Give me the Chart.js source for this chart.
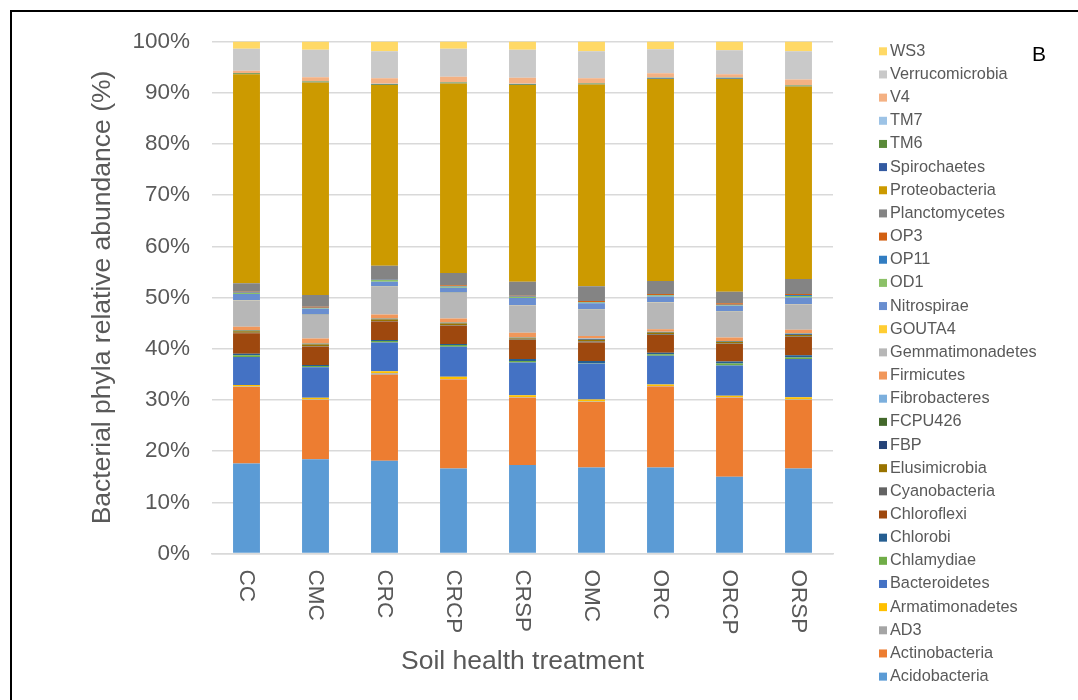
<!DOCTYPE html>
<html>
<head>
<meta charset="utf-8">
<script src="https://cdn.jsdelivr.net/npm/chart.js@4.4.1/dist/chart.umd.min.js"></script>
<style>
    html, body { margin: 0; padding: 0; background: #fff; overflow: hidden; }
    #contenedor { position: relative; width: 1078px; height: 700px; }
    #marco { position: absolute; left: 10px; top: 10px; width: 1100px; height: 720px;
             border-top: 2px solid #000; border-left: 2px solid #000; pointer-events: none; }
</style>
</head>
<body>
<div id="contenedor">
    <canvas id="graficoFilos"></canvas>
    <div id="marco"></div>
</div>
<script>
const categorias = ['CC', 'CMC', 'CRC', 'CRCP', 'CRSP', 'OMC', 'ORC', 'ORCP', 'ORSP'];

// relative abundance (%) per treatment
const acidobacteria    = [17.6, 18.4, 18.1, 16.6, 17.3, 16.8, 16.8, 15.0, 16.6];
const actinobacteria   = [14.9, 11.6, 16.8, 17.4, 13.1, 12.8, 15.8, 15.4, 13.4];
const ad3              = [0.1, 0.1, 0.3, 0.1, 0.1, 0.1, 0.1, 0.1, 0.1];
const armatimonadetes  = [0.3, 0.3, 0.4, 0.4, 0.4, 0.4, 0.3, 0.3, 0.4];
const bacteroidetes    = [5.5, 6.0, 5.6, 5.9, 6.4, 7.0, 5.6, 5.9, 7.5];
const chlamydiae       = [0.3, 0.2, 0.3, 0.3, 0.3, 0.1, 0.3, 0.4, 0.3];
const chlorobi         = [0.3, 0.2, 0.2, 0.2, 0.4, 0.4, 0.3, 0.4, 0.4];
const chloroflexi      = [4.0, 3.6, 3.6, 3.6, 3.7, 3.6, 3.5, 3.4, 3.6];
const cyanobacteria    = [0.1, 0.1, 0.1, 0.1, 0.1, 0.2, 0.1, 0.1, 0.1];
const elusimicrobia    = [0.3, 0.3, 0.3, 0.3, 0.2, 0.3, 0.3, 0.3, 0.3];
const fbp              = [0.05, 0.05, 0.05, 0.05, 0.05, 0.1, 0.05, 0.05, 0.1];
const fcpu426          = [0.1, 0.1, 0.1, 0.1, 0.1, 0.1, 0.1, 0.1, 0.1];
const fibrobacteres    = [0.05, 0.05, 0.05, 0.05, 0.05, 0.1, 0.05, 0.05, 0.1];
const firmicutes       = [0.7, 1.0, 0.8, 0.8, 0.9, 0.5, 0.5, 0.7, 0.7];
const gemmatimonadetes = [5.1, 4.6, 5.4, 5.0, 5.4, 5.1, 5.2, 5.0, 5.0];
const gouta4           = [0.05, 0.05, 0.05, 0.05, 0.05, 0.05, 0.05, 0.05, 0.05];
const nitrospirae      = [1.25, 1.15, 0.95, 0.95, 1.35, 1.25, 1.15, 1.15, 1.25];
const od1              = [0.2, 0.1, 0.3, 0.2, 0.2, 0.1, 0.2, 0.1, 0.3];
const op11             = [0.1, 0.1, 0.1, 0.1, 0.1, 0.1, 0.1, 0.1, 0.2];
const op3              = [0.1, 0.2, 0.1, 0.2, 0.15, 0.2, 0.2, 0.3, 0.2];
const planctomycetes   = [1.7, 2.3, 2.6, 2.4, 2.75, 2.9, 2.5, 2.2, 2.9];
const proteobacteria   = [40.8, 41.5, 35.3, 37.0, 38.4, 39.4, 39.5, 41.6, 37.6];
const spirochaetes     = [0.05, 0.05, 0.05, 0.05, 0.05, 0.05, 0.05, 0.05, 0.05];
const tm6              = [0.15, 0.15, 0.15, 0.15, 0.15, 0.15, 0.15, 0.15, 0.15];
const tm7              = [0.05, 0.05, 0.05, 0.05, 0.05, 0.05, 0.05, 0.05, 0.05];
const v4               = [0.45, 0.75, 1.05, 1.05, 1.15, 0.95, 0.85, 0.65, 1.15];
const verrucomicrobia  = [4.3, 5.4, 5.3, 5.5, 5.5, 5.3, 4.7, 4.7, 5.5];
const ws3              = [1.4, 1.6, 1.9, 1.4, 1.6, 1.9, 1.5, 1.7, 1.9];

const nombresFilos = ['Acidobacteria', 'Actinobacteria', 'AD3', 'Armatimonadetes', 'Bacteroidetes',
    'Chlamydiae', 'Chlorobi', 'Chloroflexi', 'Cyanobacteria', 'Elusimicrobia', 'FBP', 'FCPU426',
    'Fibrobacteres', 'Firmicutes', 'Gemmatimonadetes', 'GOUTA4', 'Nitrospirae', 'OD1', 'OP11', 'OP3',
    'Planctomycetes', 'Proteobacteria', 'Spirochaetes', 'TM6', 'TM7', 'V4', 'Verrucomicrobia', 'WS3'];
const valoresFilos = [acidobacteria, actinobacteria, ad3, armatimonadetes, bacteroidetes,
    chlamydiae, chlorobi, chloroflexi, cyanobacteria, elusimicrobia, fbp, fcpu426,
    fibrobacteres, firmicutes, gemmatimonadetes, gouta4, nitrospirae, od1, op11, op3,
    planctomycetes, proteobacteria, spirochaetes, tm6, tm7, v4, verrucomicrobia, ws3];

const colores = ['#5B9BD5', '#ED7D31', '#A5A5A5', '#FFC000', '#4472C4', '#70AD47',
    '#255E91', '#9E480E', '#636363', '#997300', '#264478', '#43682B',
    '#7CAFDD', '#F1975A', '#B7B7B7', '#FFCD33', '#698ED0', '#8CC168',
    '#327DC2', '#D26012', '#848484', '#CC9A00', '#335AA1', '#5A8A39',
    '#9DC3E6', '#F4B183', '#C9C9C9', '#FFD966'];

const fuente = '"Liberation Sans", Arial, sans-serif';
const gris = '#595959';

// 100% stacked: scale each column to its total
const totales = categorias.map((_, i) => valoresFilos.reduce((s, serie) => s + serie[i], 0));

const datasets = nombresFilos.map((nombre, k) => ({
    label: nombre,
    data: valoresFilos[k].map((v, i) => v / totales[i] * 100),
    backgroundColor: colores[k],
    borderWidth: 0,
    barPercentage: 0.39,
    categoryPercentage: 1.0
}));

// x labels read top-to-bottom, side legend and panel letter
const extras = {
    id: 'extras',
    afterDraw(chart) {
        const ctx = chart.ctx;
        const ejeX = chart.scales.x;
        ctx.save();
        ctx.fillStyle = gris;
        ctx.font = '22.5px ' + fuente;
        ctx.textAlign = 'left';
        ctx.textBaseline = 'middle';
        categorias.forEach((c, i) => {
            ctx.save();
            ctx.translate(ejeX.getPixelForTick(i), chart.chartArea.bottom + 16);
            ctx.rotate(Math.PI / 2);
            ctx.fillText(c, 0, 0);
            ctx.restore();
        });

        ctx.font = '16.3px ' + fuente;
        for (let k = nombresFilos.length - 1, fila = 0; k >= 0; k--, fila++) {
            const yc = 51.3 + fila * 23.16;
            ctx.fillStyle = colores[k];
            ctx.fillRect(879, yc - 4, 8, 8);
            ctx.fillStyle = gris;
            ctx.fillText(nombresFilos[k], 890, yc);
        }

        ctx.fillStyle = '#000';
        ctx.font = '21px ' + fuente;
        ctx.textBaseline = 'alphabetic';
        ctx.fillText('B', 1032, 61);
        ctx.restore();
    }
};

const ctx = document.getElementById('graficoFilos').getContext('2d');
const graficoFilos = new Chart(ctx, {
    type: 'bar',
    data: { labels: categorias, datasets: datasets },
    plugins: [extras],
    options: {
        responsive: true,
        maintainAspectRatio: false,
        animation: false,
        layout: { padding: { left: 83, right: 245, top: 41.5, bottom: 18 } },
        plugins: {
            legend: { display: false },
            tooltip: { enabled: true }
        },
        scales: {
            x: {
                stacked: true,
                grid: { display: false },
                border: { color: '#d9d9d9', width: 1.5 },
                ticks: { display: false },
                title: {
                    display: true,
                    text: 'Soil health treatment',
                    color: gris,
                    font: { family: fuente, size: 26.5 },
                    padding: { top: 4, bottom: 4 }
                },
                afterFit: s => { s.height = 128.5; }
            },
            y: {
                stacked: true,
                min: 0,
                max: 100,
                ticks: {
                    stepSize: 10,
                    callback: v => v + '%',
                    color: gris,
                    font: { family: fuente, size: 22.5 },
                    padding: 22
                },
                grid: { color: '#d9d9d9', lineWidth: 1.5, drawTicks: false },
                border: { display: false },
                title: {
                    display: true,
                    text: 'Bacterial phyla relative abundance (%)',
                    color: gris,
                    font: { family: fuente, size: 26.5 },
                    padding: { top: 4, bottom: 4 }
                },
                afterFit: s => { s.width = 129; }
            }
        }
    }
});
</script>
</body>
</html>
